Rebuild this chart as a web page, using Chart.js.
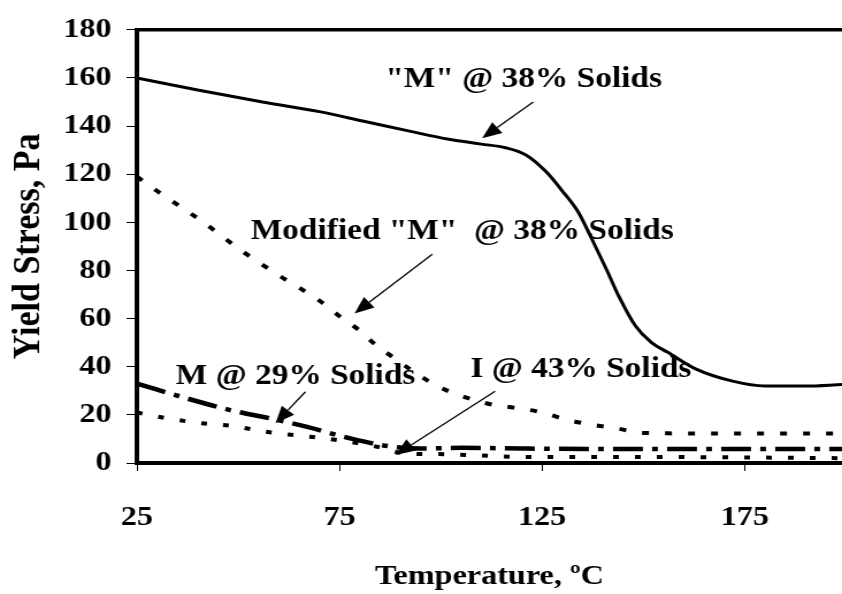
<!DOCTYPE html>
<html>
<head>
<meta charset="utf-8">
<script src="https://cdn.jsdelivr.net/npm/chart.js@4.4.0/dist/chart.umd.min.js"></script>
<style>
  html, body { margin: 0; padding: 0; background: #fff; }
</style>
</head>
<body>
<!-- drawn 732 wide, shown 842 wide: the original figure is stretched sideways -->
<canvas id="chart" width="732" height="594" style="width:842px;height:594px"></canvas>
<script>
// temperature (C) and yield stress (Pa)
const tempM38 = [25, 40, 56, 70, 81, 92, 102, 110, 116, 121, 126, 130, 134, 137, 141, 144, 148, 152, 156, 163, 172, 180, 190, 199];
const yieldM38 = [160, 155, 150, 146, 142, 138, 134.5, 132.5, 131, 128, 121, 113, 104, 94, 80, 69, 57, 50, 46, 39, 34, 32, 32, 32.6];

const tempMod = [25, 30, 41, 51, 60, 70, 75, 80, 84, 89, 95, 101, 112, 118, 125, 131, 137, 143, 150, 160, 175, 190, 199];
const yieldMod = [119, 113, 100.5, 88, 78, 67.5, 61, 55, 49, 43, 36, 30.5, 24.5, 23, 21, 18, 16, 14.5, 12.5, 12.3, 12.3, 12.3, 12.3];

const tempM29 = [25, 37, 48, 58, 67, 77, 87, 95, 105, 120, 150, 199];
const yieldM29 = [33, 27, 22, 18.5, 15, 10.5, 7, 6, 6.3, 6, 5.8, 5.8];

const tempI43 = [25, 31, 41, 48, 58, 65, 75, 85, 91, 99, 107, 120, 150, 199];
const yieldI43 = [21, 19, 16.5, 15.5, 12.7, 11.4, 9.4, 6.5, 4, 3.7, 3.3, 2.5, 2.5, 2];

const xTicks = [25, 75, 125, 175];
const yTicks = [0, 20, 40, 60, 80, 100, 120, 140, 160, 180];

// label text, text anchor, arrow tail and arrow tip (data units)
const notes = [
  { text: '"M" @ 38% Solids', at: [86.3, 156.2], from: [122.8, 150], to: [110.2, 134.9] },
  { text: 'Modified "M"  @ 38% Solids', at: [53.1, 93.2], from: [97.9, 86.7], to: [78.7, 62.1] },
  { text: 'M @ 29% Solids', at: [34.6, 32.8], from: [66.6, 29.6], to: [59.2, 16.5] },
  { text: 'I @ 43% Solids', at: [107.3, 35.6], from: [113.4, 29.8], to: [88.8, 3.3] },
];

const serif = (size) => ({ family: '"Liberation Serif", "Times New Roman", serif', size, weight: "bold" });
const pts = (xs, ys) => xs.map((x, i) => ({ x, y: ys[i] }));

function drawArrow(ctx, x0, y0, x1, y1) {
  const ang = Math.atan2(y1 - y0, x1 - x0);
  const len = 17;
  const half = 7;
  const bx = x1 - len * Math.cos(ang);
  const by = y1 - len * Math.sin(ang);
  ctx.lineWidth = 1.3;
  ctx.beginPath();
  ctx.moveTo(x0, y0);
  ctx.lineTo(bx, by);
  ctx.stroke();
  ctx.beginPath();
  ctx.moveTo(x1, y1);
  ctx.lineTo(bx + half * Math.sin(ang), by - half * Math.cos(ang));
  ctx.lineTo(bx - half * Math.sin(ang), by + half * Math.cos(ang));
  ctx.closePath();
  ctx.fill();
}

const overlay = {
  id: "overlay",
  afterDatasetsDraw(chart) {
    const { ctx, chartArea, scales } = chart;
    const { x, y } = scales;
    ctx.save();
    ctx.strokeStyle = "#000";
    ctx.fillStyle = "#000";
    // top edge of the plot frame
    ctx.lineWidth = 3.5;
    ctx.beginPath();
    ctx.moveTo(chartArea.left - 2, chartArea.top);
    ctx.lineTo(chartArea.right, chartArea.top);
    ctx.stroke();

    ctx.font = 'bold 29px "Liberation Serif", "Times New Roman", serif';
    ctx.textAlign = "left";
    ctx.textBaseline = "alphabetic";
    notes.forEach((n) => {
      ctx.fillText(n.text, x.getPixelForValue(n.at[0]), y.getPixelForValue(n.at[1]));
      drawArrow(
        ctx,
        x.getPixelForValue(n.from[0]), y.getPixelForValue(n.from[1]),
        x.getPixelForValue(n.to[0]), y.getPixelForValue(n.to[1])
      );
    });
    ctx.restore();
  },
};

const line = (data, width, dash) => ({
  data,
  borderColor: "#000",
  borderWidth: width,
  borderDash: dash,
  borderCapStyle: "butt",
  pointRadius: 0,
  cubicInterpolationMode: "monotone",
  fill: false,
});

new Chart(document.getElementById("chart"), {
  type: "line",
  data: {
    datasets: [
      { label: '"M" @ 38% Solids', ...line(pts(tempM38, yieldM38), 3, []) },
      { label: 'Modified "M" @ 38% Solids', ...line(pts(tempMod, yieldMod), 4, [6, 14]) },
      { label: "M @ 29% Solids", ...line(pts(tempM29, yieldM29), 4.5, [26, 8, 5, 8]) },
      { label: "I @ 43% Solids", ...line(pts(tempI43, yieldI43), 4, [5, 14]) },
    ],
  },
  options: {
    responsive: false,
    animation: false,
    events: [],
    layout: { padding: { top: 22, right: 0, bottom: 0, left: 0 } },
    plugins: {
      legend: { display: false },
      tooltip: { enabled: false },
    },
    scales: {
      x: {
        type: "linear",
        min: 25,
        max: 199,
        afterBuildTicks: (s) => { s.ticks = xTicks.map((v) => ({ value: v })); },
        afterFit: (s) => { s.height = 131; },
        grid: { drawOnChartArea: false, drawTicks: true, tickLength: 8, color: "#000", lineWidth: 1 },
        border: { display: true, color: "#000", width: 4 },
        ticks: { color: "#000", font: serif(28), padding: 30, maxRotation: 0, autoSkip: false },
        title: { display: true, text: "Temperature, ºC", color: "#000", font: serif(28), padding: 0 },
      },
      y: {
        min: 0,
        max: 180,
        afterBuildTicks: (s) => { s.ticks = yTicks.map((v) => ({ value: v })); },
        afterFit: (s) => { s.width = 119; },
        grid: { drawOnChartArea: false, drawTicks: true, tickLength: 9, color: "#000", lineWidth: 1 },
        border: { display: true, color: "#000", width: 4 },
        ticks: { color: "#000", font: serif(28), padding: 13, autoSkip: false },
        title: { display: true, text: "Yield Stress, Pa", color: "#000", font: serif(34), padding: 5 },
      },
    },
  },
  plugins: [overlay],
});
</script>
</body>
</html>
